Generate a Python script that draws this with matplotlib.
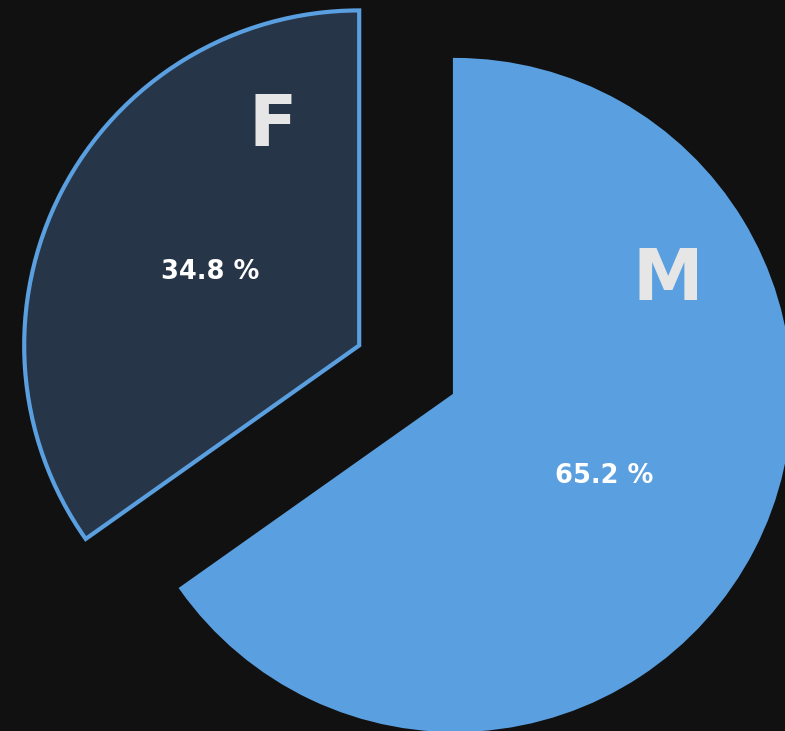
import matplotlib
matplotlib.use("Agg")
import matplotlib.pyplot as plt
import numpy as np

categories = ["M", "F"]
values = [65.2, 34.8]
pct_labels = ["65.2 %", "34.8 %"]

BG = "#111111"
BLUE = "#5A9FDF"
DARK = "#263547"

fig = plt.figure(figsize=(7.85, 7.31), dpi=100, facecolor=BG)
ax = fig.add_axes([0, 0, 1, 1])
ax.set_facecolor(BG)

explode = [0, 0.322]
wedges, _ = ax.pie(values, startangle=90, counterclock=False, explode=explode,
                   colors=[BLUE, DARK], radius=1.0,
                   wedgeprops=dict(edgecolor=BLUE, linewidth=3))

# percentage labels at half radius along wedge mid-angle
for w, lab in zip(wedges, pct_labels):
    ang = np.deg2rad((w.theta1 + w.theta2) / 2)
    cx, cy = w.center
    ax.text(cx + 0.5 * np.cos(ang), cy + 0.5 * np.sin(ang) - 0.012, lab,
            ha="center", va="center", color="white", fontsize=18.5,
            fontweight="bold", family=["DejaVu Sans"])

# category name labels
name_offsets = {"M": (0.636, 0.342), "F": (-0.257, 0.655)}
for w, name in zip(wedges, categories):
    cx, cy = w.center
    dx, dy = name_offsets[name]
    ax.text(cx + dx, cy + dy, name, ha="center", va="center", color="#E6E6E6",
            fontsize=51, fontweight="bold", family=["DejaVu Sans"])

s = 335.0
ax.set_xlim(-455 / s, (785 - 455) / s)
ax.set_ylim(-(731 - 395) / s, 395 / s)
ax.set_aspect("auto")
ax.axis("off")

fig.savefig("out.png", dpi=100, facecolor=BG)
